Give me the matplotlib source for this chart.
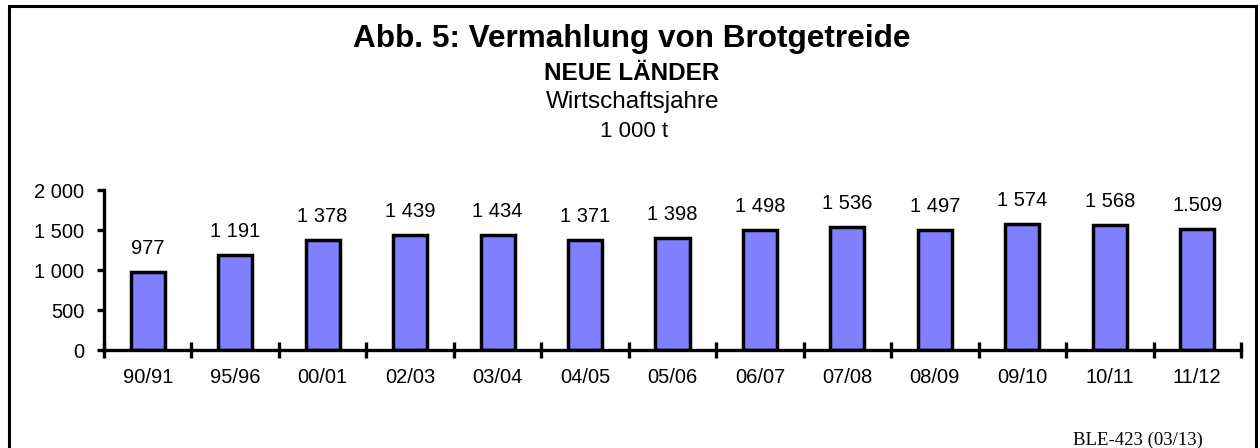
import matplotlib.pyplot as plt
from matplotlib.patches import Rectangle
import numpy as np

## data
jahre = ['90/91', '95/96', '00/01', '02/03', '03/04', '04/05', '05/06',
         '06/07', '07/08', '08/09', '09/10', '10/11', '11/12']
vermahlung = [977, 1191, 1378, 1439, 1434, 1371, 1398, 1498, 1536, 1497, 1574, 1568, 1509]
wert_labels = ['977', '1 191', '1 378', '1 439', '1 434', '1 371', '1 398',
               '1 498', '1 536', '1 497', '1 574', '1 568', '1.509']
y_ticks = [0, 500, 1000, 1500, 2000]
y_labels = ['0', '500', '1 000', '1 500', '2 000']

plt.rcParams['font.family'] = ['Liberation Sans', 'DejaVu Sans']

fig = plt.figure(figsize=(12.6, 4.48), dpi=100)

##outer frame, bottom edge runs off the picture
fig.patches.append(Rectangle((8.5 / 1260, -0.05), (1256 - 8.5) / 1260, 1.05 - 6 / 448,
                             transform=fig.transFigure, fill=False, lw=2.2,
                             edgecolor='black'))

##titles (placed on their baselines)
fig.text(632 / 1260, 1 - 47 / 448, 'Abb. 5: Vermahlung von Brotgetreide', ha='center',
         va='baseline', fontsize=22.7, fontweight='bold')
fig.text(632 / 1260, 1 - 80 / 448, 'NEUE LÄNDER', ha='center', va='baseline',
         fontsize=17.5, fontweight='bold')
fig.text(633 / 1260, 1 - 108 / 448, 'Wirtschaftsjahre', ha='center', va='baseline',
         fontsize=17.5)
fig.text(634 / 1260, 1 - 137 / 448, '1 000 t', ha='center', va='baseline', fontsize=16)
fig.text(1138 / 1260, 1 - 445 / 448, 'BLE-423 (03/13)', ha='center', va='baseline',
         fontsize=13.5, family=['Liberation Serif', 'DejaVu Serif'])

ax = fig.add_axes([104 / 1260, 1 - 350 / 448, (1241 - 104) / 1260, 160 / 448])

x = np.arange(len(jahre))
bars = ax.bar(x, vermahlung, width=0.39, color='#8080FF', edgecolor='black', linewidth=2.5)

for xi, v, lab in zip(x, vermahlung, wert_labels):
    ax.annotate(lab, (xi, v), xytext=(0, 10), textcoords='offset points',
                ha='center', va='bottom', fontsize=14.5)

ax.set_xlim(-0.5, len(jahre) - 0.5)
ax.set_ylim(0, 2000)
ax.set_yticks(y_ticks)
ax.set_yticklabels(y_labels, fontsize=14.5)
ax.set_xticks(x)
ax.set_xticklabels(jahre, fontsize=14.5)
ax.set_xticks(np.arange(len(jahre) + 1) - 0.5, minor=True)

ax.tick_params(axis='x', which='major', length=0, pad=13)
ax.tick_params(axis='x', which='minor', direction='inout', length=11, width=2.4)
ax.tick_params(axis='y', direction='out', length=5, width=2.4, pad=9)

for s in ['top', 'right']:
    ax.spines[s].set_visible(False)
for s in ['left', 'bottom']:
    ax.spines[s].set_linewidth(2.4)
ax.patch.set_alpha(0)

fig.savefig('out.png', dpi=100)
